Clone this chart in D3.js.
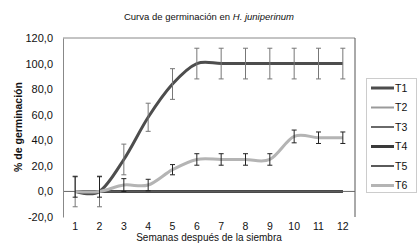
<!DOCTYPE html>
<html><head><meta charset="utf-8">
<script src="https://cdn.jsdelivr.net/npm/d3@7"></script>
<style>
body{margin:0;background:#fff;}
text{font-family:"Liberation Sans",Arial,sans-serif;fill:#111;}
</style></head>
<body><svg id="c" width="420" height="248"></svg>
<script>
const weeks = [1,2,3,4,5,6,7,8,9,10,11,12];
const seriesNames = ["T1","T2","T3","T4","T5","T6"];
const T1 = [0,0,25,58,84,100,100,100,100,100,100,100];
const T2 = [0,0,0,0,0,0,0,0,0,0,0,0];
const T3 = [0,0,0,0,0,0,0,0,0,0,0,0];
const T4 = [0,0,0,0,0,0,0,0,0,0,0,0];
const T5 = [0,0,0,0,0,0,0,0,0,0,0,0];
const T6 = [0,0,5,5,17,25,25,25,25,43,42,42];
const T1errPlus  = [12,12,12,11,12,12,12,12,12,12,12,12];
const T1errMinus = [12,12,12,11,12,12,12,12,12,12,12,12];
const T6errPlus  = [11.5,11.5,5,4.5,4,4.5,4.5,4.5,4.5,5,4.5,4.5];
const T6errMinus = [4.5,4.5,5,4.5,4,4.5,4.5,4.5,4.5,5,4.5,4.5];
const yTicks = [-20,0,20,40,60,80,100,120];
const colors = {T1:"#4d4d4d",T2:"#9a9a9a",T3:"#6a6a6a",T4:"#3a3a3a",T5:"#5a5a5a",T6:"#b4b4b4"};
const widths = {T1:3,T2:2,T3:2,T4:3,T5:2,T6:3};

const svg = d3.select("#c");
const L=63,R=355,T=38,B=217;
const x = d3.scaleBand().domain(weeks).range([L,R]);
const cx = d => x(d)+x.bandwidth()/2;
const y = d3.scaleLinear().domain([-20,120]).range([B,T]);

// title
const title = svg.append("text").attr("x",209).attr("y",20).attr("text-anchor","middle").style("font-size","9.5px");
title.append("tspan").text("Curva de germinación en ");
title.append("tspan").style("font-style","italic").text("H. juniperinum");

// plot border
svg.append("line").attr("x1",L).attr("x2",R).attr("y1",T).attr("y2",T).attr("stroke","#888");
svg.append("line").attr("x1",R).attr("x2",R).attr("y1",T).attr("y2",B).attr("stroke","#555");
// x axis at 0
svg.append("line").attr("x1",L).attr("x2",R).attr("y1",y(0)).attr("y2",y(0)).attr("stroke","#666");

// y axis
const ya = svg.append("g").attr("transform",`translate(${L},0)`)
  .call(d3.axisLeft(y).tickValues(yTicks).tickSize(0).tickPadding(10).tickFormat(d=>d3.format(".1f")(d).replace(".",",").replace("−","-")));
ya.select(".domain").attr("stroke","#888");
ya.selectAll("text").style("font-size","11px").style("font-family","'Liberation Sans',Arial,sans-serif");

// x axis labels
const xa = svg.append("g").attr("transform",`translate(0,${B})`)
  .call(d3.axisBottom(x).tickSize(0).tickPadding(6));
xa.select(".domain").remove();
xa.selectAll("text").style("font-size","10.5px").style("font-family","'Liberation Sans',Arial,sans-serif");

svg.append("text").attr("x",209).attr("y",241).attr("text-anchor","middle").style("font-size","10px").text("Semanas después de la siembra");
svg.append("text").attr("transform","translate(22,127) rotate(-90)").attr("text-anchor","middle").style("font-size","10.5px").style("font-weight","bold").text("% de germinación");

// lines
const line = d3.line().x((d,i)=>cx(weeks[i])).y(d=>y(d)).curve(d3.curveCardinal.tension(0));
const data = {T1,T2,T3,T4,T5,T6};
["T2","T3","T4","T5","T1","T6"].forEach(k=>{
  svg.append("path").attr("d",line(data[k])).attr("fill","none").attr("stroke",colors[k]).attr("stroke-width",widths[k]);
});

// error bars
function errBars(vals, plus, minus, col){
  const g = svg.append("g").attr("stroke",col).attr("stroke-width",1);
  weeks.forEach((w,i)=>{
    const xx=cx(w), y1=y(vals[i]+plus[i]), y2=y(vals[i]-minus[i]);
    g.append("line").attr("x1",xx).attr("x2",xx).attr("y1",y1).attr("y2",y2);
    g.append("line").attr("x1",xx-2.5).attr("x2",xx+2.5).attr("y1",y1).attr("y2",y1);
    g.append("line").attr("x1",xx-2.5).attr("x2",xx+2.5).attr("y1",y2).attr("y2",y2);
  });
}
errBars(T1,T1errPlus,T1errMinus,"#777");
errBars(T6,T6errPlus,T6errMinus,"#222");

// legend
svg.append("rect").attr("x",366.5).attr("y",78.5).attr("width",50).attr("height",114).attr("fill","none").attr("stroke","#ccc");
const lg = svg.append("g");
const ly = d3.scalePoint().domain(seriesNames).range([88,185.5]);
seriesNames.forEach(k=>{
  lg.append("line").attr("x1",371).attr("x2",394).attr("y1",ly(k)).attr("y2",ly(k)).attr("stroke",colors[k]).attr("stroke-width",widths[k]);
  lg.append("text").attr("x",395).attr("y",ly(k)+3.8).style("font-size","10.5px").text(k);
});
</script></body></html>
